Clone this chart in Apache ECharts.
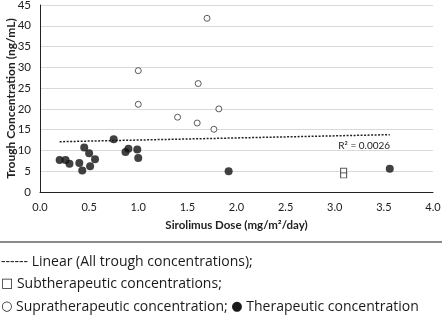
<!DOCTYPE html>
<html>
<head>
<meta charset="utf-8">
<script src="https://cdn.jsdelivr.net/npm/echarts@6/dist/echarts.min.js"></script>
<style>
html, body { margin: 0; padding: 0; background: #fff; }
#chart { width: 442px; height: 315px; }
</style>
</head>
<body>
<div id="chart"></div>
<script>
// 超治疗浓度 (空心圆)
const supraX = [1.0, 1.0, 1.70, 1.61, 1.82, 1.40, 1.60, 1.77]
const supraY = [29.2, 21.1, 41.8, 26.1, 20.0, 18.0, 16.6, 15.1]
// 治疗浓度 (实心圆)
const therX = [0.20, 0.26, 0.30, 0.40, 0.45, 0.43, 0.50, 0.51, 0.56, 0.75, 0.87, 0.90, 0.99, 1.0, 1.92, 3.56]
const therY = [7.7, 7.7, 6.8, 7.0, 10.7, 5.2, 9.3, 6.2, 7.9, 12.7, 9.6, 10.4, 10.2, 8.2, 5.0, 5.6]
// 亚治疗浓度 (方块)
const subX = [3.09, 3.09]
const subY = [5.1, 4.0]
// 趋势线端点
const trendX = [0.2, 3.56]
const trendY = [12.1, 13.8]
const xTicks = ['0.0', '0.5', '1.0', '1.5', '2.0', '2.5', '3.0', '3.5', '4.0']

const zip = (a, b) => a.map((v, i) => [v, b[i]])
const font = 'Lato, "Open Sans", sans-serif'
const legendFont = '"Open Sans", sans-serif'

// 图例文字 (带符号)
const legendText = (parts, top) => ({
  type: 'text',
  left: 1,
  top: top,
  style: {
    rich: {
      t: { fontSize: 14, fontFamily: legendFont, fill: '#1a1a1a' },
      s: { fontSize: 13, fontFamily: '"DejaVu Sans"', fill: '#1a1a1a' }
    },
    text: parts
  }
})

const myChart = echarts.init(document.getElementById('chart'))
myChart.setOption({
  animation: false,
  grid: {
    left: 40,
    right: 9,
    top: 5,
    bottom: 123,
    containLabel: false,
    outerBoundsMode: 'none'
  },
  xAxis: {
    type: 'value',
    min: 0,
    max: 4,
    interval: 0.5,
    name: 'Sirolimus Dose (mg/m²/day)',
    nameLocation: 'middle',
    nameGap: 27,
    nameMoveOverlap: false,
    nameTextStyle: { color: '#222', fontSize: 11.5, fontWeight: 'bold', fontFamily: font },
    axisLine: { lineStyle: { color: '#222', width: 1 } },
    axisTick: { show: false },
    splitLine: { show: false },
    axisLabel: {
      color: '#222',
      fontSize: 11,
      fontFamily: font,
      margin: 10,
      formatter: (v) => xTicks[Math.round(v / 0.5)]
    }
  },
  yAxis: {
    type: 'value',
    min: 0,
    max: 45,
    interval: 5,
    name: 'Trough Concentration (ng/mL)',
    nameLocation: 'middle',
    nameGap: 23,
    nameMoveOverlap: false,
    nameTextStyle: { color: '#222', fontSize: 12, fontWeight: 'bold', fontFamily: font },
    axisLine: { show: true, lineStyle: { color: '#222', width: 1 } },
    axisTick: { show: false },
    splitLine: { lineStyle: { color: '#d9d9d9', width: 1 } },
    axisLabel: { color: '#222', fontSize: 11.5, fontFamily: font, margin: 9 }
  },
  series: [{
    name: 'Linear',
    type: 'line',
    data: zip(trendX, trendY),
    symbol: 'none',
    lineStyle: { color: '#222', width: 1.5, type: [2, 1.5] },
    markPoint: {
      symbol: 'circle',
      symbolSize: 0,
      data: [{ coord: [3.3, 11.2] }],
      label: {
        show: true,
        formatter: 'R² = 0.0026',
        color: '#222',
        fontSize: 10,
        fontFamily: font
      }
    },
    z: 1
  }, {
    name: 'Supratherapeutic',
    type: 'scatter',
    data: zip(supraX, supraY),
    symbol: 'circle',
    symbolSize: 6,
    itemStyle: { color: '#fff', borderColor: '#333', borderWidth: 1 }
  }, {
    name: 'Therapeutic',
    type: 'scatter',
    data: zip(therX, therY),
    symbol: 'circle',
    symbolSize: 8,
    itemStyle: { color: '#111' }
  }, {
    name: 'Subtherapeutic',
    type: 'scatter',
    data: zip(subX, subY),
    symbol: 'rect',
    symbolSize: [6, 5],
    itemStyle: { color: '#fff', borderColor: '#333', borderWidth: 1 }
  }],
  graphic: [{
    type: 'rect',
    shape: { x: 0, y: 241, width: 442, height: 2 },
    style: { fill: '#8a8a8a' }
  },
  legendText('{t|------ Linear (All trough concentrations);}', 255),
  legendText('{s|□}{t| Subtherapeutic concentrations;}', 277),
  legendText('{s|○}{t| Supratherapeutic concentration; }{s|●}{t| Therapeutic concentration}', 300)
  ]
})
</script>
</body>
</html>
